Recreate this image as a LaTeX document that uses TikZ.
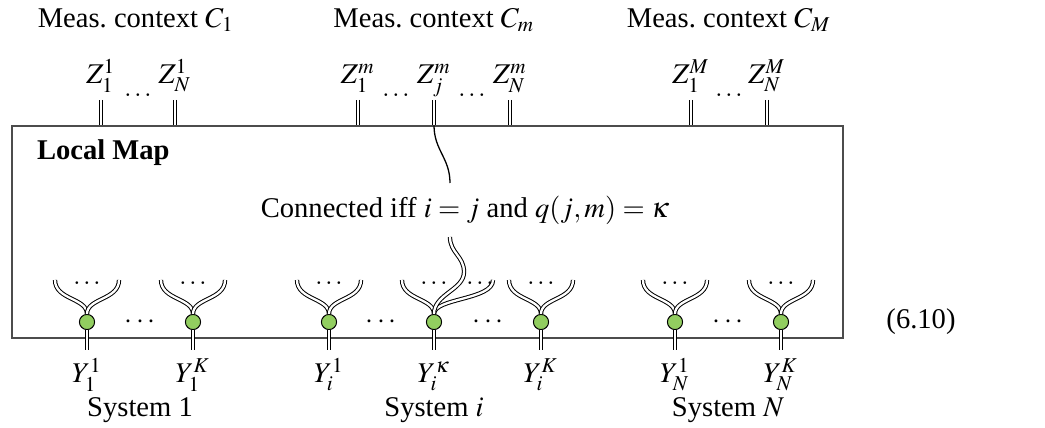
\documentclass[tikz,border=0pt]{standalone}
\usepackage{mathptmx}
\usepackage{fontspec}
\setmainfont{Liberation Serif}
\usetikzlibrary{positioning}
\definecolor{spidergreen}{RGB}{146,206,96}
\tikzset{
  qwire/.style={double,double distance=0.8pt,line width=0.35pt},
  cwire/.style={line width=0.45pt},
  spider/.style={circle,draw,fill=spidergreen,inner sep=0pt,minimum size=5.3pt,line width=0.35pt},
  fdots/.style={anchor=base,inner sep=0pt,font=\small},
  lab/.style={anchor=base,inner sep=1pt}
}
\begin{document}
\begin{tikzpicture}[x=0.35pt,y=-0.35pt]
\useasboundingbox (0,0) rectangle (1045,428);
\node[draw=black!70,line width=0.5pt,minimum width=290.85pt,minimum height=74.2pt,inner sep=0pt] (map) at (427.5,232) {};
\node[font=\bfseries,anchor=west] (title) at (27,153) {Local Map};
% measurement contexts on top
\foreach \x/\lab in {136/C_1,434/C_m,729/C_M}
  \node at (\x,20) {Meas.\ context $\lab$};
\foreach \x/\name/\lab in {101/z11/{Z_1^1},175/z1N/{Z_N^1},358/zm1/{Z_1^m},434/zmj/{Z_j^m},510/zmN/{Z_N^m},691/zM1/{Z_1^M},767/zMN/{Z_N^M}}{
  \node[lab] (\name) at (\x,84) {$\lab$};
  \coordinate (\name-w) at (\x,100);
  \draw[qwire] (\name-w) -- (\name-w |- map.north);}
\foreach \x in {138,396,472,729}
  \node[fdots] at (\x,97) {$\dots$};
% systems at the bottom
\foreach \x/\name/\lab/\rx in {87/y11/{Y_1^1}/32,193/y1K/{Y_1^K}/32,329/yi1/{Y_i^1}/32,434/yik/{Y_i^\kappa}/59,541/yiK/{Y_i^K}/32,675/yN1/{Y_N^1}/32,781/yNK/{Y_N^K}/32}{
  \coordinate (\name-l) at (\x-32,280);
  \coordinate (\name-r) at (\x+\rx,280);
  \coordinate (\name-o) at (\x,350);
  \node[spider] (\name) at (\x,322) {};
  \draw[qwire] (\name) -- (\name-o);
  \draw[qwire] (\name-l) .. controls +(0,20) and +(0,-16) .. (\name.north);
  \draw[qwire] (\name-r) .. controls +(0,20) and +(0,-16) .. (\name.north);
  \node[fdots] at (\x,285) {$\dots$};
  \node[lab] (\name-lab) at (\x,383) {$\lab$};}
\node[fdots] at (480,285) {$\dots$};
\foreach \x in {140,381,488,728}
  \node at (\x,322) {$\cdots$};
\foreach \x/\lab in {140/1,434/$i$,728/$N$}
  \node[lab] at (\x,417) {System \lab};
% the one wire that is connected
\node (conn) at (465,210) {Connected iff $i=j$ and $q(j,m)=\kappa$};
\coordinate (jtop) at (450,183);
\coordinate (jbot) at (450,237);
\coordinate (jbend) at (464,272);
\draw[cwire] (zmj-w |- map.north) .. controls +(0,25) and +(0,-25) .. (jtop);
\draw[qwire] (jbot) .. controls +(0,16) and +(0,-16) .. (jbend) .. controls +(0,18) and +(0,-20) .. (yik.north);
\node at (921,322) {(6.10)};
\end{tikzpicture}
\end{document}
